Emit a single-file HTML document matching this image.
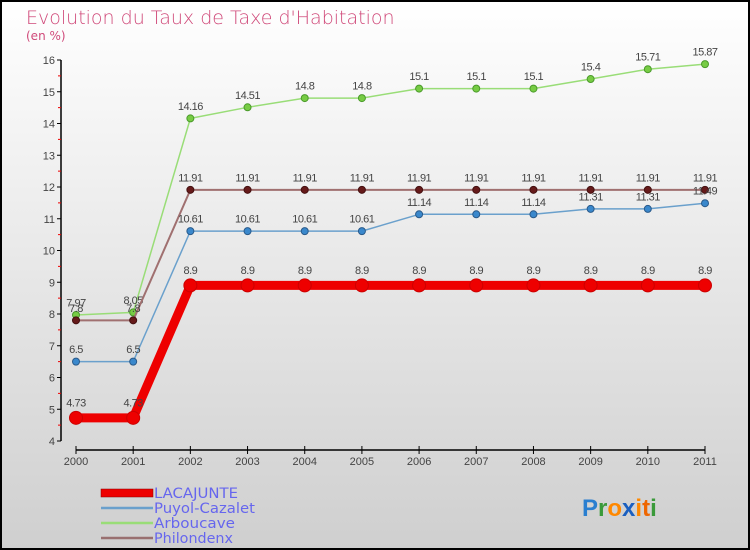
<!DOCTYPE html>
<html><head><meta charset="utf-8">
<style>
html,body{margin:0;padding:0;}
body{width:750px;height:550px;overflow:hidden;font-family:"Liberation Sans",sans-serif;}
svg{display:block;}
</style></head>
<body>
<svg id="chart" width="750" height="550" xmlns="http://www.w3.org/2000/svg">
<defs>
<linearGradient id="bg" x1="0" y1="0" x2="0" y2="1">
<stop offset="0" stop-color="#ffffff"/><stop offset="1" stop-color="#cfcfcf"/>
</linearGradient>
</defs>
<rect x="1" y="1" width="748" height="548" fill="url(#bg)" stroke="#000" stroke-width="2"/>
<text x="26" y="24" font-size="19" fill="#d04a7a" font-family="DejaVu Sans, sans-serif" font-weight="200">Evolution du Taux de Taxe d'Habitation</text>
<text x="26" y="40" font-size="12" fill="#d04a7a" font-family="DejaVu Sans, sans-serif">(en %)</text>
<g id="axes"></g>
<g id="series"></g>
<g id="legend" font-family="DejaVu Sans, sans-serif">
<rect x="101" y="489" width="52" height="8" fill="#ee0000" stroke="#800" stroke-width="0.5"/>
<text x="154" y="498" font-size="14" fill="#6666ee" textLength="84" lengthAdjust="spacingAndGlyphs">LACAJUNTE</text>
<line x1="101" y1="508" x2="153" y2="508" stroke="#6aa0cc" stroke-width="2.5"/>
<text x="154" y="513" font-size="14" fill="#6666ee" textLength="101" lengthAdjust="spacingAndGlyphs">Puyol-Cazalet</text>
<line x1="101" y1="523" x2="153" y2="523" stroke="#99dd77" stroke-width="2.5"/>
<text x="154" y="528" font-size="14" fill="#6666ee" textLength="81" lengthAdjust="spacingAndGlyphs">Arboucave</text>
<line x1="101" y1="538" x2="153" y2="538" stroke="#997070" stroke-width="2.5"/>
<text x="154" y="543" font-size="14" fill="#6666ee" textLength="79" lengthAdjust="spacingAndGlyphs">Philondenx</text>
</g>
<text x="582" y="516" font-size="24" font-weight="bold" font-family="Liberation Sans, sans-serif"><tspan fill="#2a7fd0">P</tspan><tspan fill="#3a9a3a">r</tspan><tspan fill="#ff8800">o</tspan><tspan fill="#1a5fc0">x</tspan><tspan fill="#ff8800">i</tspan><tspan fill="#ee6600">t</tspan><tspan fill="#3a9a3a">i</tspan></text>
</svg>
<script>
const years = ["2000","2001","2002","2003","2004","2005","2006","2007","2008","2009","2010","2011"];
const yTicks = [4,5,6,7,8,9,10,11,12,13,14,15,16];
const lacajunte = [4.73,4.73,8.9,8.9,8.9,8.9,8.9,8.9,8.9,8.9,8.9,8.9];
const puyol = [6.5,6.5,10.61,10.61,10.61,10.61,11.14,11.14,11.14,11.31,11.31,11.49];
const arboucave = [7.97,8.05,14.16,14.51,14.8,14.8,15.1,15.1,15.1,15.4,15.71,15.87];
const philondenx = [7.8,7.8,11.91,11.91,11.91,11.91,11.91,11.91,11.91,11.91,11.91,11.91];

const NS="http://www.w3.org/2000/svg";
const xPos = i => 76 + i*(705-76)/11;
const yPos = v => 441 - (v-4)*(441-60)/12;
function mk(tag, attrs, parent){const e=document.createElementNS(NS,tag);for(const k in attrs)e.setAttribute(k,attrs[k]);parent.appendChild(e);return e;}
const axes=document.getElementById('axes');
const ya=mk('line',{x1:61,y1:60,x2:61,y2:441,stroke:'#000','stroke-width':1.5},axes);


const xa=mk('line',{x1:76,y1:450,x2:705,y2:450,stroke:'#000','stroke-width':1.5},axes);


yTicks.forEach(v=>{
  const y=yPos(v);
  mk('line',{x1:57,y1:y,x2:61,y2:y,stroke:'#000','stroke-width':1},axes);
  const t=mk('text',{x:55,y:y+4,'font-size':11,fill:'#444','text-anchor':'end'},axes);
  
  
  t.textContent=v;
  if(v<16){const ym=yPos(v+0.5);mk('line',{x1:58,y1:ym,x2:61,y2:ym,stroke:'#e00','stroke-width':1},axes);}
});
years.forEach((yr,i)=>{
  const x=xPos(i);
  mk('line',{x1:x,y1:446,x2:x,y2:454,stroke:'#000','stroke-width':1},axes);
  const t=mk('text',{x:x,y:465,'font-size':11,fill:'#444','text-anchor':'middle'},axes);
  
  
  t.textContent=yr;
});
const series=document.getElementById('series');
function draw(vals,name,line,dot,lw,r,dotStroke){
  const g=mk('g',{},series);
  
  
  const pts=vals.map((v,i)=>xPos(i)+','+yPos(v)).join(' ');
  const pl=mk('polyline',{points:pts,fill:'none',stroke:line,'stroke-width':lw,'stroke-linejoin':'round'},g);
  
  
  vals.forEach((v,i)=>{
    const c=mk('circle',{cx:xPos(i),cy:yPos(v),r:r,fill:dot,stroke:dotStroke,'stroke-width':1},g);
    
    
    const t=mk('text',{x:xPos(i),y:yPos(v)-(r+5),'font-size':11,fill:'#444','text-anchor':'middle','letter-spacing':'-0.5'},g);
    
    
    t.textContent=String(v);
  });
}
draw(arboucave,'arboucave','#99dd77','#77cc44',1.5,3.5,'#4a9a2a');
draw(philondenx,'philondenx','#a07070','#661a1a',2,3.5,'#441010');
draw(puyol,'puyol-cazalet','#6aa0cc','#3a88cc',1.5,3.5,'#2a5a8a');
draw(lacajunte,'lacajunte','#ee0000','#ee0000',9,6.5,'#c00');
</script>
</body></html>
